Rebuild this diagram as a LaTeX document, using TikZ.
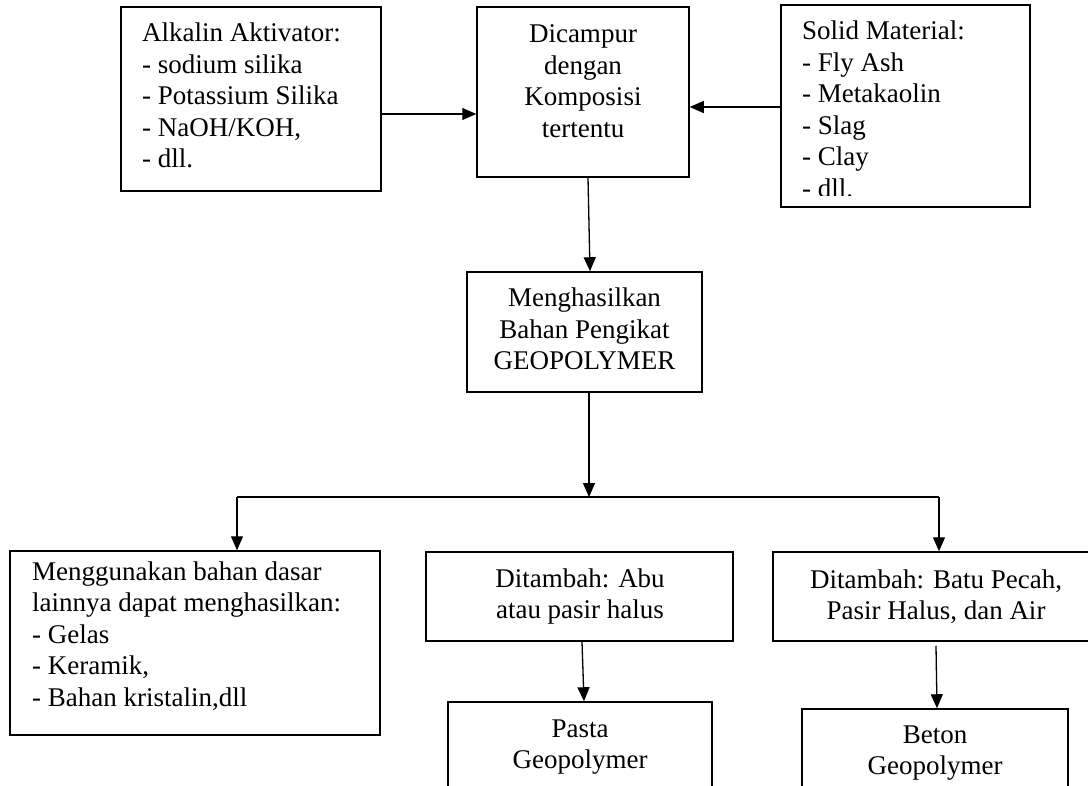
\documentclass[tikz,border=0pt]{standalone}
\usepackage{fontspec}
\setmainfont{Liberation Serif}
\usetikzlibrary{arrows.meta}
\tikzset{
  box/.style={draw=black, line width=1.5pt, inner sep=0pt, fill=none},
  arr/.style={line width=1.3pt, -{Triangle[length=14pt,width=12pt]}},
  conn/.style={line width=1.3pt},
  txt/.style={inner sep=0pt, font=\fontsize{27}{31.5}\selectfont},
}
\newcommand{\lcol}[1]{\begin{tabular}[t]{@{}l@{}}#1\end{tabular}}
\newcommand{\ccol}[1]{\begin{tabular}[t]{@{}c@{}}#1\end{tabular}}
\begin{document}
\begin{tikzpicture}[x=1pt,y=-1pt]
\useasboundingbox (0,0) rectangle (1088,786);
\clip (0,0) rectangle (1088,786);
\fill[white] (0,0) rectangle (1088,786);

% boxes
\node (A)  [box, minimum width=260pt, minimum height=184pt] at (251,99) {};
\node (D)  [box, minimum width=212pt, minimum height=170pt] at (583,92) {};
\node (S)  [box, minimum width=249pt, minimum height=202pt] at (905.5,106) {};
\node (M)  [box, minimum width=235pt, minimum height=120pt] at (584.5,332) {};
\node (L)  [box, minimum width=370pt, minimum height=184pt] at (195,643) {};
\node (T1) [box, minimum width=307pt, minimum height=89pt] at (579.5,596.5) {};
\node (T2) [box, minimum width=326pt, minimum height=89pt] at (936,596.5) {};
\node (P)  [box, minimum width=264pt, minimum height=128pt] at (580,766) {};
\node (B)  [box, minimum width=266pt, minimum height=121pt] at (935,769.5) {};

% texts
\node (At) [txt, anchor=base west] at (142,42) {\lcol{Alkalin Aktivator:\\- sodium silika\\- Potassium Silika\\- NaOH/KOH,\\- dll.}};
\node (Dt) [txt, anchor=base] at (583,43) {\ccol{Dicampur\\dengan\\Komposisi\\tertentu}};
\begin{scope}
  \clip (781,5) rectangle (1030,196);
  \node (St) [txt, anchor=base west] at (802,40) {\lcol{Solid Material:\\- Fly Ash\\- Metakaolin\\- Slag\\- Clay\\- dll.}};
\end{scope}
\node (Mt) [txt, anchor=base] at (584.5,307) {\ccol{Menghasilkan\\Bahan Pengikat\\GEOPOLYMER}};
\node (Lt) [txt, anchor=base west] at (32,580) {\lcol{Menggunakan bahan dasar\\lainnya dapat menghasilkan:\\- Gelas\\- Keramik,\\- Bahan kristalin,dll}};
\node (T1t) [txt, anchor=base] at (580,587) {\ccol{Ditambah: Abu\\atau pasir halus}};
\node (T2t) [txt, anchor=base] at (936,588) {\ccol{Ditambah: Batu Pecah,\\Pasir Halus, dan Air}};
\node (Pt) [txt, anchor=base] at (580,737) {\ccol{Pasta\\Geopolymer}};
\node (Bt) [txt, anchor=base] at (935,743) {\ccol{Beton\\Geopolymer}};

% connectors
\coordinate (ad) at (0,114);
\coordinate (sd) at (0,107);
\coordinate (j)  at (589,497);
\coordinate (jl) at (237,497);
\coordinate (jr) at (939,497);

\draw[arr] (A.east |- ad) -- (D.west |- ad);
\draw[arr] (S.west |- sd) -- (D.east |- sd);
\draw[arr] ([xshift=5pt]D.south) -- ([xshift=5.5pt]M.north);
\draw[arr] (M.south -| j) -- (j);
\draw[conn] (jl) -- (jr);
\draw[arr] (jl) -- (jl |- L.north);
\draw[arr] (jr) -- (jr |- T2.north);
\draw[arr] ([xshift=2.5pt]T1.south) -- ([xshift=4pt]P.north);
\draw[arr] ([yshift=-4pt]T2.south) -- ([xshift=2pt]B.north);
\end{tikzpicture}
\end{document}
